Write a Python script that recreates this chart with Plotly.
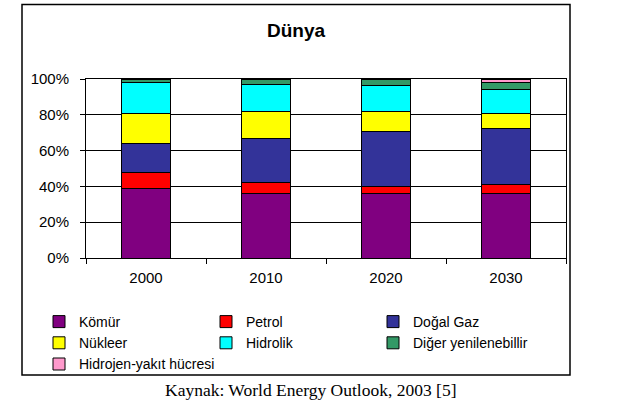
import plotly.graph_objects as go

years = ["2000", "2010", "2020", "2030"]
series_names = ["Kömür", "Petrol", "Doğal Gaz", "Nükleer", "Hidrolik",
                "Diğer yenilenebillir", "Hidrojen-yakıt hücresi"]
komur = [39.1, 35.8, 35.8, 36.3]
petrol = [8.4, 6.5, 4.4, 5.0]
dogal_gaz = [16.7, 24.7, 30.7, 30.8]
nukleer = [16.8, 14.6, 10.7, 8.9]
hidrolik = [17.3, 15.6, 15.0, 13.4]
diger = [1.7, 2.8, 3.4, 3.9]
hidrojen = [0.0, 0.0, 0.0, 1.7]
colors = ["#800080", "#FF0000", "#333399", "#FFFF00", "#00FFFF", "#339966", "#FF99CC"]
y_ticks = [0, 20, 40, 60, 80, 100]
y_tick_labels = [f"{v}%" for v in y_ticks]

values = [komur, petrol, dogal_gaz, nukleer, hidrolik, diger, hidrojen]

W, H = 622, 402
L, R, T, B = 86, 56, 79, 144
pw, ph = W - L - R, H - T - B

def px_x(x):
    return (x - L) / pw

def px_y(y):
    return (H - B - y) / ph

fig = go.Figure()
for name, vals, col in zip(series_names, values, colors):
    fig.add_trace(go.Bar(
        x=years, y=vals, name=name,
        marker=dict(color=col, line=dict(color="black", width=1)),
    ))

fnt = "Liberation Sans, Arial, sans-serif"
fig.update_layout(
    width=W, height=H,
    margin=dict(l=L, r=R, t=T, b=B, autoexpand=False),
    barmode="stack", bargap=0.59,
    plot_bgcolor="white", paper_bgcolor="white",
    font=dict(family=fnt, size=15, color="black"),
    title=dict(text="<b>Dünya</b>", font=dict(family=fnt, size=19, color="black"),
               x=px_x(296), xref="paper", xanchor="center",
               y=1 - 30 / H, yref="container", yanchor="middle"),
    xaxis=dict(showline=True, linecolor="black", linewidth=1, mirror=True,
               ticks="outside", ticklen=5, tickcolor="black", tickson="boundaries",
               showgrid=False, tickfont=dict(size=15), ticklabelstandoff=6),
    yaxis=dict(range=[0, 100], tickmode="array", tickvals=y_ticks, ticktext=y_tick_labels,
               showline=True, linecolor="black", linewidth=1, mirror=True,
               ticks="outside", ticklen=5, tickcolor="black",
               showgrid=True, gridcolor="black", gridwidth=1,
               tickfont=dict(size=15), ticklabelstandoff=8, zeroline=False),
    legend=dict(orientation="h", traceorder="normal",
                x=px_x(39), xanchor="left", y=px_y(306), yanchor="top",
                entrywidth=122, entrywidthmode="pixels",
                font=dict(size=14), bgcolor="rgba(0,0,0,0)"),
    shapes=[dict(type="rect", xref="paper", yref="paper",
                 x0=px_x(22), x1=px_x(570), y0=px_y(375), y1=px_y(4.5),
                 line=dict(color="black", width=1.5), layer="below")],
    annotations=[dict(text="Kaynak: World Energy Outlook, 2003 [5]",
                      xref="paper", yref="paper", x=px_x(311), y=px_y(390),
                      xanchor="center", yanchor="middle", showarrow=False,
                      font=dict(family="Liberation Serif, Times New Roman, serif",
                                size=17.5, color="black"))],
)

fig.write_html("out.html")
